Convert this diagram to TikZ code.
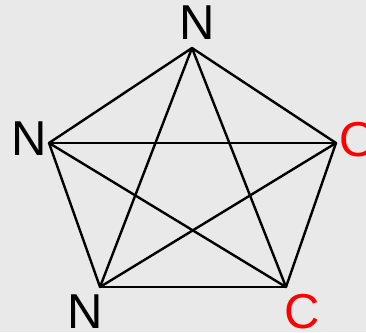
\documentclass[tikz,border=0pt]{standalone}
\usepackage{fontspec}
\setmainfont{Liberation Sans}
\usepackage{tikz}
\usepackage{tkz-euclide}
\definecolor{bggray}{RGB}{233,233,233}
\definecolor{atomred}{RGB}{255,0,0}
\begin{document}
\begin{tikzpicture}[x=1pt, y=-1pt,
    atom/.style={font=\fontsize{49}{49}\selectfont, inner sep=0pt}]
                \useasboundingbox (0,0) rectangle (366,332);
                \fill[bggray] (0,0) rectangle (366,332);
                \tkzDefPoints{192/48/A, 49/143/B, 100/287/C, 286/287/D, 336/143/E}
                \tkzDrawSegments[black, line width=2.4pt](A,B B,C C,D D,E E,A A,C A,D B,D B,E C,E)
                \node[atom] (labA) at (197,23) {N};
                \node[atom] (labB) at (29,139) {N};
                \node[atom] (labC) at (85,312) {N};
                \node[atom, text=atomred] (labD) at (302,312) {C};
                \node[atom, text=atomred, anchor=west] (labE) at (339,140) {O};
            \end{tikzpicture}
\end{document}
